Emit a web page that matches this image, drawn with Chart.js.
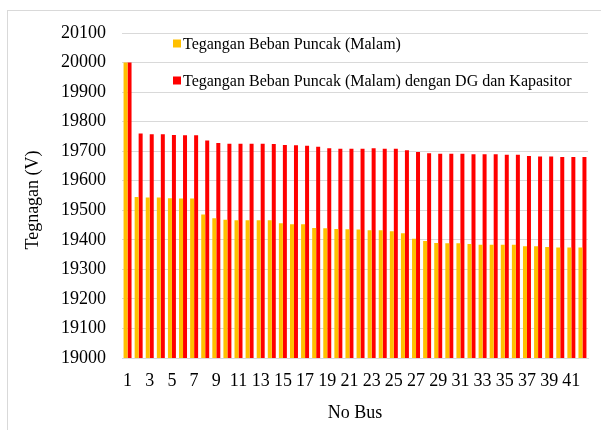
<!DOCTYPE html>
<html>
<head>
<meta charset="utf-8">
<script src="https://cdn.jsdelivr.net/npm/chart.js@4.4.1/dist/chart.umd.min.js"></script>
<style>
  html, body { margin: 0; padding: 0; background: #fff; overflow: hidden; }
  #wrap { position: relative; width: 601px; height: 430px; }
  #frame { position: absolute; left: 7px; top: 10px; width: 700px; height: 500px; border: 1px solid #d9d9d9; box-sizing: border-box; }
  canvas { position: absolute; left: 0; top: 0; }
</style>
</head>
<body>
<div id="wrap">
  <div id="frame"></div>
  <canvas id="c" width="601" height="430"></canvas>
</div>
<script>
const busNumbers = [1,2,3,4,5,6,7,8,9,10,11,12,13,14,15,16,17,18,19,20,21,22,23,24,25,26,27,28,29,30,31,32,33,34,35,36,37,38,39,40,41,42];
const seriesNames = ["Tegangan Beban Puncak (Malam)", "Tegangan Beban Puncak (Malam) dengan DG dan Kapasitor"];
const voltagePeak = [20000, 19545, 19543, 19543, 19541, 19540, 19540, 19486, 19473, 19468, 19466, 19466, 19466, 19466, 19456, 19453, 19453, 19440, 19439, 19437, 19436, 19435, 19432, 19432, 19429, 19422, 19404, 19396, 19389, 19388, 19388, 19386, 19383, 19383, 19383, 19383, 19378, 19378, 19376, 19374, 19374, 19374];
const voltageDGCap = [20000, 19760, 19757, 19757, 19755, 19754, 19754, 19736, 19728, 19725, 19725, 19725, 19725, 19724, 19721, 19720, 19718, 19715, 19710, 19708, 19708, 19708, 19710, 19708, 19708, 19703, 19697, 19693, 19691, 19691, 19691, 19690, 19690, 19690, 19688, 19688, 19684, 19682, 19682, 19680, 19680, 19680];
const yMin = 19000, yMax = 20100, yStep = 100;
const xTitle = "No Bus";
const yTitle = "Tegnagan (V)";
const serif = '"Liberation Serif", "Times New Roman", serif';

const legendPlugin = {
  id: 'customLegend',
  afterDraw(chart) {
    const ctx = chart.ctx;
    const rows = [{y: 48.5}, {y: 85.5}];
    ctx.save();
    ctx.font = '16px ' + serif;
    ctx.textBaseline = 'alphabetic';
    ctx.textAlign = 'left';
    chart.data.datasets.forEach((ds, i) => {
      const r = rows[i];
      ctx.fillStyle = ds.backgroundColor;
      ctx.fillRect(173, r.y - 9, 8, 8);
      ctx.fillStyle = '#000';
      ctx.fillText(ds.label, 183, r.y);
    });
    // y axis title
    ctx.font = '18px ' + serif;
    ctx.translate(33.5, 200);
    ctx.rotate(-Math.PI / 2);
    ctx.textAlign = 'center';
    ctx.textBaseline = 'middle';
    ctx.fillText(yTitle, 0, 0);
    ctx.restore();
  }
};

new Chart(document.getElementById('c'), {
  type: 'bar',
  data: {
    labels: busNumbers,
    datasets: [
      { label: seriesNames[0], data: voltagePeak, backgroundColor: '#FFC000', borderWidth: 0 },
      { label: seriesNames[1], data: voltageDGCap, backgroundColor: '#FF0000', borderWidth: 0 }
    ]
  },
  options: {
    responsive: false,
    animation: false,
    devicePixelRatio: 1,
    layout: { padding: { top: 33, right: 13, left: 0, bottom: 0 } },
    datasets: { bar: { categoryPercentage: 0.72, barPercentage: 1.0 } },
    plugins: { legend: { display: false }, tooltip: { enabled: false } },
    scales: {
      x: {
        grid: { display: false, drawTicks: false },
        border: { display: true, color: '#d9d9d9', width: 1 },
        ticks: {
          autoSkip: false, maxRotation: 0, minRotation: 0, padding: 12,
          color: '#000',
          font: { family: serif, size: 18 },
          callback: function(v, i) { return i % 2 === 0 ? String(busNumbers[i]) : ''; }
        },
        title: {
          display: true, text: xTitle, color: '#000',
          font: { family: serif, size: 18 },
          padding: { top: 0, bottom: 6 }
        },
        afterFit(scale) { scale.height = 72; }
      },
      y: {
        min: yMin, max: yMax,
        grid: { color: '#d9d9d9', lineWidth: 1, drawTicks: false },
        border: { display: false },
        ticks: {
          stepSize: yStep, padding: 16, color: '#000',
          font: { family: serif, size: 18 },
          callback: v => String(v)
        },
        title: { display: false },
        afterFit(scale) { scale.width = 122; }
      }
    }
  },
  plugins: [legendPlugin]
});
</script>
</body>
</html>
